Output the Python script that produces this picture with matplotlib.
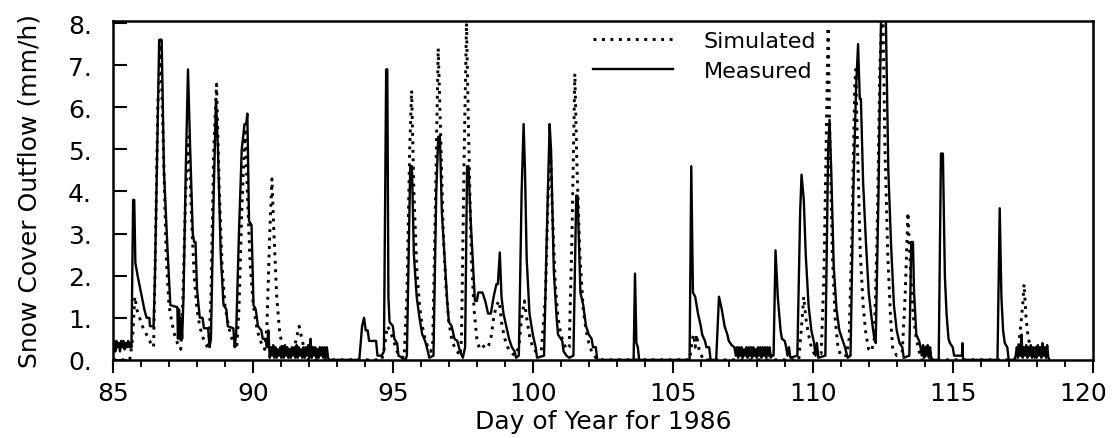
import numpy as np
import matplotlib.pyplot as plt
from matplotlib.ticker import FuncFormatter, MultipleLocator

# hourly step used for the low-flow noise blocks
HOUR = 1.0 / 24.0

# measured outflow, vertices (day, mm/h)
meas_a = [(85.66, 0.3), (85.72, 3.8), (85.76, 3.8), (85.8, 2.3), (85.88, 2.0), (86.0, 1.6),
          (86.12, 1.2), (86.2, 1.0), (86.3, 1.0), (86.32, 0.8), (86.45, 0.8), (86.5, 2.0),
          (86.65, 7.6), (86.74, 7.6), (86.82, 4.5), (86.95, 2.6), (87.05, 1.3), (87.3, 1.25),
          (87.32, 0.5), (87.36, 1.2), (87.4, 0.5), (87.44, 1.0), (87.47, 0.5), (87.52, 1.5),
          (87.6, 4.5), (87.68, 6.9), (87.75, 5.2), (87.85, 3.0), (87.9, 2.8), (87.95, 2.8),
          (88.0, 1.7), (88.1, 1.0), (88.2, 1.0), (88.25, 0.75), (88.4, 0.75), (88.45, 0.3),
          (88.5, 0.5), (88.6, 4.0), (88.68, 6.2), (88.75, 5.0), (88.85, 2.5), (88.95, 1.3),
          (89.05, 1.2), (89.1, 0.8), (89.3, 0.75), (89.35, 0.3), (89.4, 0.6), (89.5, 3.0),
          (89.6, 5.0), (89.7, 5.6), (89.76, 5.6), (89.8, 5.85), (89.86, 3.3), (89.95, 3.2),
          (90.02, 1.3), (90.1, 1.2), (90.18, 0.8), (90.3, 0.7), (90.35, 0.5), (90.45, 0.5),
          (90.5, 0.3), (90.55, 0.7), (90.58, 0.3)]

meas_b = [(92.72, 0.0), (93.8, 0.0), (93.9, 0.8), (93.97, 1.0), (94.03, 0.7), (94.1, 0.7),
          (94.15, 0.45), (94.4, 0.45), (94.45, 0.1), (94.6, 0.1), (94.68, 0.2), (94.76, 6.9),
          (94.8, 6.9), (94.84, 1.5), (94.88, 0.9), (95.0, 0.8), (95.05, 0.5), (95.15, 0.4),
          (95.2, 0.1), (95.45, 0.0), (95.5, 0.1), (95.62, 4.6), (95.68, 4.6), (95.75, 2.5),
          (95.85, 1.5), (95.95, 1.0), (96.05, 0.6), (96.15, 0.45), (96.25, 0.2), (96.3, 0.05),
          (96.45, 0.1), (96.55, 4.0), (96.62, 5.3), (96.68, 5.3), (96.75, 3.5), (96.85, 2.4),
          (96.95, 1.3), (97.0, 0.9), (97.1, 0.8), (97.2, 0.5), (97.3, 0.45), (97.4, 0.2),
          (97.5, 0.05), (97.58, 0.3), (97.65, 4.6), (97.7, 4.6), (97.78, 3.3), (97.88, 2.0),
          (97.93, 1.4), (98.0, 1.4), (98.05, 1.6), (98.2, 1.6), (98.3, 1.4), (98.4, 1.1),
          (98.5, 1.1), (98.6, 1.5), (98.7, 1.8), (98.75, 1.8), (98.82, 2.55), (98.88, 1.5),
          (98.95, 1.1), (99.05, 0.8), (99.15, 0.5), (99.25, 0.3), (99.35, 0.2), (99.4, 0.05),
          (99.5, 0.1), (99.6, 4.0), (99.67, 5.6), (99.72, 4.5), (99.78, 2.4), (99.88, 1.1),
          (99.95, 0.8), (100.0, 0.6), (100.1, 0.3), (100.15, 0.05), (100.4, 0.1), (100.5, 3.0),
          (100.6, 5.6), (100.65, 5.0), (100.75, 2.1), (100.85, 1.0), (100.9, 0.6), (101.05, 0.45),
          (101.1, 0.2), (101.2, 0.1), (101.3, 0.05), (101.45, 0.1), (101.55, 3.9), (101.6, 3.9),
          (101.7, 1.6), (101.8, 1.3), (101.9, 0.8), (102.0, 0.6), (102.1, 0.5), (102.15, 0.3),
          (102.25, 0.3), (102.3, 0.0), (103.6, 0.0), (103.65, 2.05), (103.7, 0.4),
          (103.75, 0.3), (103.8, 0.0), (105.6, 0.0), (105.66, 4.6), (105.72, 1.6),
          (105.8, 1.5), (105.9, 1.1), (106.0, 0.8), (106.05, 0.6), (106.15, 0.45), (106.2, 0.3),
          (106.3, 0.3), (106.35, 0.0), (106.55, 0.0), (106.65, 1.5), (106.75, 1.2),
          (106.85, 0.8), (106.95, 0.6), (107.0, 0.45), (107.1, 0.35), (107.2, 0.3)]

meas_c = [(108.6, 0.1), (108.67, 2.6), (108.75, 1.5), (108.85, 0.7), (108.9, 0.5), (109.0, 0.45),
          (109.05, 0.3), (109.1, 0.1), (109.15, 0.3), (109.2, 0.05), (109.45, 0.1), (109.55, 3.5),
          (109.6, 4.4), (109.68, 3.8), (109.75, 2.5), (109.85, 1.3), (109.95, 0.7), (110.05, 0.4),
          (110.1, 0.1), (110.15, 0.4), (110.2, 0.05), (110.45, 0.1), (110.55, 5.0), (110.6, 5.7),
          (110.66, 4.5), (110.75, 2.2), (110.85, 1.2), (110.95, 0.7), (111.05, 0.5), (111.15, 0.3),
          (111.25, 0.05), (111.35, 0.1), (111.45, 4.0), (111.55, 6.5), (111.62, 7.5), (111.68, 6.2),
          (111.72, 6.2), (111.8, 4.2), (111.9, 2.8), (112.0, 1.6), (112.1, 1.0), (112.2, 0.5),
          (112.25, 0.4), (112.35, 4.0), (112.45, 8.6), (112.6, 8.6), (112.7, 4.5), (112.8, 2.7),
          (112.9, 1.3), (113.0, 0.7), (113.1, 0.4), (113.2, 0.3), (113.25, 0.05), (113.45, 0.1),
          (113.52, 2.8), (113.58, 2.8), (113.62, 1.6), (113.7, 0.6), (113.8, 0.45), (113.85, 0.3)]

meas_d = [(114.3, 0.0), (114.5, 0.0), (114.58, 4.9), (114.65, 4.9), (114.72, 2.0), (114.78, 1.1),
          (114.85, 0.5), (114.9, 0.4), (115.0, 0.3), (115.05, 0.1), (115.33, 0.1), (115.35, 0.4),
          (115.37, 0.0), (116.6, 0.0), (116.68, 3.6), (116.74, 1.5), (116.8, 0.7), (116.86, 0.4),
          (116.95, 0.3), (117.0, 0.0), (117.2, 0.0)]

# low-flow flicker in the measured record, hourly values from the given start day
noise_a = (85.0, [0.3, 0.45, 0.2, 0.45, 0.3, 0.4, 0.2, 0.45, 0.3, 0.45, 0.25, 0.4, 0.3, 0.45, 0.3, 0.4])
noise_b = (90.6, [0.05, 0.3, 0.1, 0.35, 0.05, 0.3, 0.05, 0.25, 0.1, 0.3, 0.05, 0.3, 0.05, 0.35,
                  0.1, 0.3, 0.05, 0.25, 0.05, 0.3, 0.1, 0.3, 0.05, 0.35, 0.05, 0.3, 0.1, 0.25,
                  0.05, 0.3, 0.05, 0.3, 0.1, 0.35, 0.05, 0.5, 0.05, 0.3, 0.1, 0.3, 0.05, 0.25,
                  0.05, 0.3, 0.1, 0.3, 0.05, 0.3, 0.05, 0.3, 0.05])
noise_c = (107.25, [0.1, 0.3, 0.05, 0.3, 0.1, 0.3, 0.05, 0.25, 0.1, 0.3, 0.05, 0.3, 0.1, 0.3,
                    0.05, 0.3, 0.1, 0.25, 0.05, 0.3, 0.1, 0.3, 0.05, 0.3, 0.1, 0.3, 0.05, 0.3,
                    0.1, 0.3, 0.05, 0.1])
noise_d = (113.9, [0.1, 0.35, 0.05, 0.3, 0.1, 0.35, 0.05, 0.3, 0.05])
noise_e = (117.25, [0.1, 0.3, 0.05, 0.35, 0.1, 0.6, 0.05, 0.3, 0.1, 0.35, 0.05, 0.3, 0.1, 0.35,
                    0.05, 0.3, 0.1, 0.3, 0.05, 0.35, 0.1, 0.3, 0.05, 0.4, 0.1, 0.3, 0.05, 0.35,
                    0.05, 0.0])

# simulated outflow, vertices (day, mm/h)
sim_pts = [(85.0, 0.0), (85.6, 0.0), (85.7, 0.5), (85.78, 1.5), (85.85, 1.2), (85.95, 1.0),
           (86.05, 0.8), (86.2, 0.6), (86.35, 0.4), (86.45, 0.3), (86.5, 2.0), (86.6, 6.0),
           (86.7, 7.6), (86.8, 5.0), (86.9, 2.5), (87.0, 1.3), (87.1, 0.9), (87.2, 0.6),
           (87.3, 0.4), (87.42, 0.25), (87.5, 1.5), (87.6, 4.0), (87.7, 5.3), (87.8, 3.5),
           (87.9, 2.0), (88.0, 1.2), (88.1, 0.8), (88.2, 0.55), (88.3, 0.4), (88.42, 0.25),
           (88.5, 1.5), (88.6, 5.0), (88.7, 6.55), (88.8, 4.0), (88.9, 2.2), (89.0, 1.3),
           (89.1, 0.9), (89.2, 0.6), (89.3, 0.4), (89.42, 0.25), (89.5, 1.2), (89.6, 3.5),
           (89.72, 5.5), (89.8, 4.0), (89.9, 2.3), (90.0, 1.4), (90.1, 0.9), (90.2, 0.6),
           (90.3, 0.4), (90.42, 0.25), (90.5, 0.8), (90.6, 3.0), (90.68, 4.3), (90.75, 3.0),
           (90.85, 1.5), (90.95, 0.7), (91.05, 0.3), (91.2, 0.15), (91.45, 0.2), (91.55, 0.5),
           (91.65, 0.8), (91.75, 0.5), (91.85, 0.2), (92.0, 0.0), (94.6, 0.0), (94.7, 0.3),
           (94.8, 0.8), (94.9, 0.7), (95.0, 0.5), (95.1, 0.3), (95.2, 0.1), (95.4, 0.05),
           (95.5, 1.5), (95.6, 5.0), (95.67, 6.4), (95.75, 4.0), (95.85, 2.2), (95.95, 1.3),
           (96.05, 0.8), (96.15, 0.5), (96.25, 0.3), (96.35, 0.2), (96.42, 0.3), (96.5, 3.0),
           (96.62, 7.4), (96.7, 5.5), (96.8, 3.0), (96.9, 1.7), (97.0, 0.9), (97.1, 0.5),
           (97.2, 0.3), (97.3, 0.2), (97.4, 0.1), (97.45, 0.5), (97.55, 5.0), (97.63, 8.0),
           (97.7, 5.5), (97.8, 2.5), (97.9, 1.2), (98.0, 0.5), (98.1, 0.25), (98.2, 0.3),
           (98.3, 0.35), (98.4, 0.3), (98.5, 0.5), (98.6, 1.0), (98.7, 1.3), (98.8, 1.4),
           (98.9, 0.8), (99.0, 0.5), (99.1, 0.3), (99.2, 0.2), (99.35, 0.1), (99.5, 0.3),
           (99.6, 1.0), (99.7, 1.4), (99.8, 0.9), (99.9, 0.5), (100.0, 0.3), (100.1, 0.2),
           (100.3, 0.2), (100.45, 1.5), (100.55, 4.0), (100.63, 5.0), (100.7, 3.5), (100.8, 1.8),
           (100.9, 1.0), (101.0, 0.6), (101.1, 0.4), (101.2, 0.25), (101.3, 0.3), (101.4, 3.0),
           (101.5, 6.8), (101.58, 4.5), (101.68, 2.5), (101.8, 1.2), (101.9, 0.7), (102.0, 0.4),
           (102.1, 0.2), (102.3, 0.0), (105.6, 0.0), (105.7, 0.5), (105.75, 0.6), (105.8, 0.3),
           (105.85, 0.6), (105.95, 0.2), (106.1, 0.0), (109.5, 0.0), (109.6, 0.8),
           (109.68, 1.5), (109.75, 1.0), (109.85, 0.6), (109.95, 0.3), (110.05, 0.15),
           (110.3, 0.15), (110.4, 2.0), (110.5, 6.0), (110.55, 7.9), (110.62, 5.0), (110.7, 2.5),
           (110.8, 1.0), (110.9, 0.3), (111.0, 0.1), (111.2, 0.1), (111.3, 0.5), (111.4, 3.0),
           (111.5, 6.5), (111.54, 6.9), (111.6, 5.0), (111.7, 2.5), (111.8, 1.3), (111.9, 0.6),
           (112.0, 0.25), (112.1, 0.2), (112.2, 0.5), (112.3, 3.0), (112.4, 7.0), (112.5, 8.6),
           (112.58, 5.0), (112.68, 2.5), (112.78, 1.0), (112.86, 0.25), (113.0, 0.1),
           (113.2, 0.2), (113.3, 1.5), (113.4, 3.5), (113.5, 2.0), (113.6, 1.0), (113.7, 0.5),
           (113.8, 0.2), (113.9, 0.0), (117.3, 0.0), (117.4, 0.6), (117.5, 1.3),
           (117.55, 1.8), (117.62, 1.0), (117.7, 0.5), (117.8, 0.3), (117.9, 0.1), (118.0, 0.0)]

X_MAX = 120


def noise_points(block):
    start, vals = block
    return [(start + i * HOUR, v) for i, v in enumerate(vals)]


measured = (noise_points(noise_a) + meas_a + noise_points(noise_b) + meas_b
            + noise_points(noise_c) + meas_c + noise_points(noise_d) + meas_d
            + noise_points(noise_e))
meas_x, meas_y = zip(*measured)
sim_x, sim_y = zip(*sim_pts)

plt.rcParams['font.family'] = ['DejaVu Sans']

fig = plt.figure(figsize=(11.12, 4.39), dpi=100)
ax = fig.add_axes([0.1016, 0.178, 0.881, 0.772])

ax.plot(sim_x, sim_y, color='black', lw=2.1, linestyle=(0, (1, 1.9)), label='Simulated')
ax.plot(meas_x, meas_y, color='black', lw=1.7, label='Measured')

ax.set_xlim(85, X_MAX)
ax.set_ylim(0, 8.05)
ax.xaxis.set_major_locator(MultipleLocator(5))
ax.xaxis.set_minor_locator(MultipleLocator(1))
ax.yaxis.set_major_locator(MultipleLocator(1))
ax.yaxis.set_major_formatter(FuncFormatter(lambda v, p: f"{int(round(v))}."))
# the last day label is placed by hand below, a bit left of its tick
ax.xaxis.set_major_formatter(FuncFormatter(lambda v, p: "" if v >= X_MAX else f"{int(v)}"))

ax.tick_params(axis='x', which='major', direction='out', length=9, width=1.5,
               labelsize=18, pad=6)
ax.tick_params(axis='x', which='minor', direction='out', length=5, width=1.3)
ax.tick_params(axis='y', which='major', direction='in', length=10, width=1.5,
               labelsize=18, pad=15)
for s in ax.spines.values():
    s.set_linewidth(1.8)

ax.annotate(f"{X_MAX}", xy=(X_MAX, 0), xycoords=('data', 'axes fraction'),
            xytext=(-7, -15), textcoords='offset points', ha='center', va='top',
            fontsize=18, annotation_clip=False)

ax.set_xlabel('Day of Year for 1986', fontsize=18, labelpad=3)
ax.set_ylabel('Snow Cover Outflow (mm/h)', fontsize=18, labelpad=19)

ax.legend(loc='upper left', bbox_to_anchor=(0.533, 0.928), bbox_transform=fig.transFigure,
          frameon=False, fontsize=16, handlelength=3.6, handletextpad=1.4,
          borderpad=0, borderaxespad=0, labelspacing=0.45)

fig.savefig('out.png', dpi=100)
